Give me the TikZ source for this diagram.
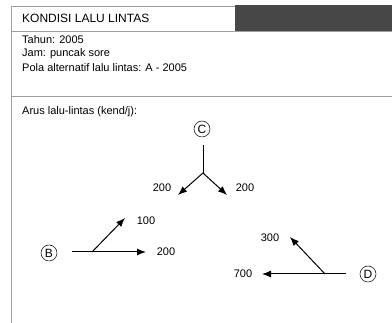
\documentclass[tikz,border=0pt]{standalone}
\usepackage{fontspec}
\setmainfont{Liberation Sans}
\usetikzlibrary{arrows.meta}
\begin{document}
\begin{tikzpicture}[x=1pt,y=1pt,
  frameline/.style={draw=gray!75,line width=0.8pt},
  txt/.style={anchor=west,inner sep=0pt,font=\fontsize{11}{13}\selectfont},
  lbl/.style={inner sep=0pt,font=\fontsize{11}{13}\selectfont},
  zone/.style={circle,draw,line width=0.5pt,minimum size=16pt,inner sep=0pt,font=\fontsize{12}{14}\selectfont},
  flow/.style={line width=1pt,-{Latex[length=9pt,width=7pt]}},
  plain/.style={line width=1pt}]
\useasboundingbox (0,0) rectangle (392,323);
% frame
\fill[black!72] (235,292) rectangle (392,318);
\draw[frameline] (11,0) -- (11,317) -- (235,317);
\draw[frameline] (11,292) -- (392,292);
\draw[frameline] (11,227) -- (392,227);
% texts
\node[txt,font=\fontsize{12}{14}\selectfont] (title) at (22,305) {KONDISI LALU LINTAS};
\node[txt] (t1) at (22,283) {Tahun: 2005};
\node[txt] (t2) at (22,269) {Jam: puncak sore};
\node[txt] (t3) at (22,255) {Pola alternatif lalu lintas: A - 2005};
\node[txt] (t4) at (22,211) {Arus lalu-lintas (kend/j):};
% C
\node[zone] (C) at (202,194) {C};
\coordinate (Cs) at (203,178);
\coordinate (Cj) at (203,150);
\coordinate (Cl) at (178,128);
\coordinate (Cr) at (227,128);
\node[lbl] (Cla) at (162,135) {200};
\node[lbl] (Cra) at (245,135) {200};
\draw[plain] (Cs) -- (Cj);
\draw[flow] (Cj) -- (Cl);
\draw[flow] (Cj) -- (Cr);
% B
\node[zone] (B) at (49,70) {B};
\coordinate (Bs) at (72,71);
\coordinate (Bj) at (92,71);
\coordinate (Be) at (146,71);
\coordinate (Bu) at (125,105);
\node[lbl] (Bua) at (146,102) {100};
\node[lbl] (Bea) at (166,71) {200};
\draw[flow] (Bs) -- (Be);
\draw[flow] (Bj) -- (Bu);
% D
\node[zone] (D) at (368,49) {D};
\coordinate (Ds) at (346,49);
\coordinate (Dj) at (325,49);
\coordinate (De) at (262,49);
\coordinate (Du) at (290,86);
\node[lbl] (Dua) at (270,85) {300};
\node[lbl] (Dea) at (243,49) {700};
\draw[flow] (Ds) -- (De);
\draw[flow] (Dj) -- (Du);
\end{tikzpicture}
\end{document}
